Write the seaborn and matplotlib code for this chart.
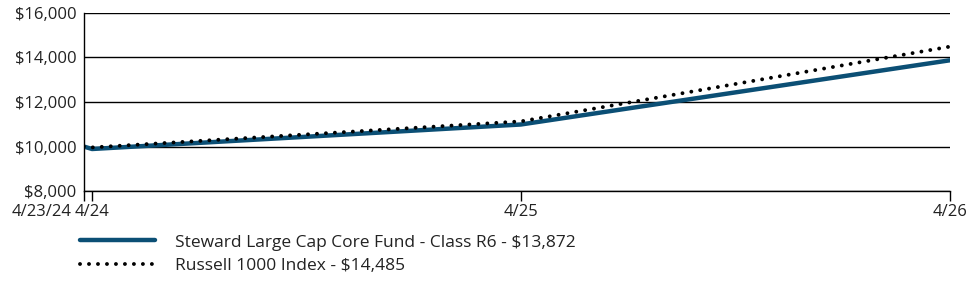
import pandas as pd
import matplotlib.pyplot as plt
import matplotlib.transforms as mtransforms
import seaborn as sns

dates = ['2024-04-23', '2024-04-30', '2025-04-30', '2026-04-30']
tick_labels = ['4/23/24', '4/24', '4/25', '4/26']
fund_values = [10000, 9890, 10990, 13872]
index_values = [10000, 9960, 11130, 14485]
fund_name = 'Steward Large Cap Core Fund - Class R6 - $13,872'
index_name = 'Russell 1000 Index - $14,485'

df = pd.DataFrame({
    'Date': pd.to_datetime(dates * 2),
    'Value': fund_values + index_values,
    'Series': [fund_name] * 4 + [index_name] * 4,
})

sns.set_style('white')
plt.rcParams['font.family'] = ['Open Sans', 'DejaVu Sans']

blue = '#0B4F75'
dot_style = (0, (0.01, 2.3))

fig = plt.figure(figsize=(9.75, 2.81), dpi=100)
ax = fig.add_axes([0.086, 0.32, 0.888, 0.634])

sns.lineplot(data=df, x='Date', y='Value', hue='Series',
             palette={fund_name: blue, index_name: 'black'},
             linewidth=3.2, ax=ax, legend=False)
ax.lines[1].set_linestyle(dot_style)
ax.lines[1].set_dash_capstyle('round')
ax.lines[1].set_linewidth(2.8)

ax.set_xlim(pd.Timestamp(dates[0]), pd.Timestamp(dates[-1]))
ax.set_ylim(8000, 16000)
ax.set_yticks([8000, 10000, 12000, 14000, 16000])
ax.yaxis.set_major_formatter(plt.FuncFormatter(lambda v, p: f'${v:,.0f}'))
ax.set_xticks(pd.to_datetime(dates))
ax.set_xticklabels(tick_labels)
ax.grid(axis='y', color='black', linewidth=1)
ax.set_xlabel('')
ax.set_ylabel('')
for s in ['top', 'right']:
    ax.spines[s].set_visible(False)
for s in ['left', 'bottom']:
    ax.spines[s].set_color('black')
    ax.spines[s].set_linewidth(1)
ax.tick_params(axis='x', bottom=True, length=7, width=1, color='black',
               labelsize=12, pad=2, labelcolor='#222222')
ax.tick_params(axis='y', left=False, labelsize=12, pad=2, labelcolor='#222222')

# first date label sits to the left of the axis start
first = ax.get_xticklabels()[0]
first.set_horizontalalignment('right')
first.set_transform(first.get_transform() +
                    mtransforms.ScaledTranslation(-12 / 100, 0, fig.dpi_scale_trans))

handles = [
    plt.Line2D([0], [0], color=blue, lw=3.2),
    plt.Line2D([0], [0], color='black', lw=2.8, linestyle=dot_style,
               dash_capstyle='round'),
]
fig.legend(handles, [fund_name, index_name], loc='upper left',
           bbox_to_anchor=(0.082, 0.166), frameon=False, fontsize=12.5,
           borderpad=0, borderaxespad=0,
           handlelength=4.3, handletextpad=1.2, labelspacing=0.42,
           labelcolor='#222222')

fig.savefig('out.png', dpi=100)
